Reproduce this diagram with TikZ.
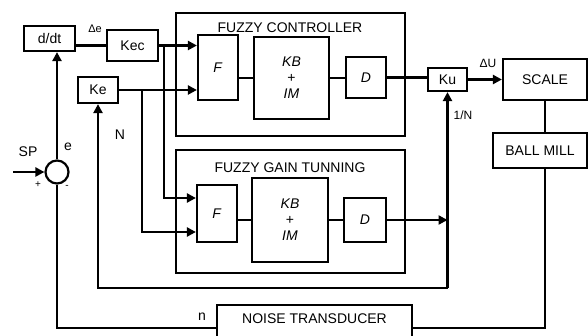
\documentclass[tikz,border=0pt]{standalone}
\usepackage{fontspec}
\setmainfont{Liberation Sans}
\usepackage{tikz}
\usetikzlibrary{arrows.meta}

\begin{document}
\begin{tikzpicture}[>={Triangle[length=9pt,width=9pt]}, x=1pt, y=-1pt,
	every node/.style={font=\fontsize{14}{16}\selectfont},
	box/.style={draw, line width=2.2pt, inner sep=0pt},
	line/.style={line width=2.6pt}]
				\useasboundingbox (0,0) rectangle (588,336);
				\clip (0,0) rectangle (588,336);
				
				\path 
				(164,0) coordinate (bx1)
				(142,0) coordinate (bx2)
				(0,198) coordinate (in1)
				(0,232) coordinate (in2)
				(0,288) coordinate (nrow)
				(13,172) coordinate (sp)
				;
				
				% the two fuzzy blocks
				\node[box, minimum width=229, minimum height=123] (fc) at (290.5,74.5) {};
				\node (fctitle) at (290,28) {FUZZY CONTROLLER};
				\node[box, minimum width=40, minimum height=65] (f1) at (218,67.5) {\textit{F}};
				\node[box, minimum width=75, minimum height=82, align=center] (kb1) at (291.5,78) {\textit{KB}\\+\\\textit{IM}};
				\node[box, minimum width=40, minimum height=41] (d1) at (366,77.5) {\textit{D}};
				
				\node[box, minimum width=229, minimum height=123] (fg) at (290.5,211.5) {};
				\node (fgtitle) at (290,168) {FUZZY GAIN TUNNING};
				\node[box, minimum width=40, minimum height=57] (f2) at (217,213.5) {\textit{F}};
				\node[box, minimum width=76, minimum height=84, align=center] (kb2) at (290,220) {\textit{KB}\\+\\\textit{IM}};
				\node[box, minimum width=42, minimum height=44] (d2) at (365,220) {\textit{D}};
				
				% the other blocks
				\node[box, minimum width=51, minimum height=25] (ddt) at (49.5,38.5) {d/dt};
				\node[box, minimum width=51, minimum height=31] (kec) at (132.5,45.5) {Kec};
				\node[box, minimum width=40, minimum height=26] (ke) at (98,90) {Ke};
				\node[box, minimum width=39, minimum height=23] (ku) at (447.5,79.5) {Ku};
				\node[box, minimum width=84, minimum height=41] (scale) at (545,79.5) {SCALE};
				\node[box, minimum width=94, minimum height=35] (mill) at (540,150.5) {BALL MILL};
				\node[box, minimum width=195, minimum height=46, text height=10, text depth=20] (noise) at (314.5,328) {NOISE TRANSDUCER};
				\node[draw, circle, line width=2.2pt, minimum size=23] (sum) at (57,172) {};
				
				\draw[line] (ddt.east |- kec.west) -- (kec.west);
				\draw[line,->] (kec.east) -- (kec.east -| f1.west);
				\draw[line,->] (ke.east) -- (ke.east -| f1.west);
				\draw[line,->] (bx1 |- kec.east) |- (f2.west |- in1);
				\draw[line,->] (bx2 |- ke.east) |- (f2.west |- in2);
				
				\draw[line] (f1.east |- kb1.west) -- (kb1.west);
				\draw[line] (kb1.east) -- (kb1.east -| d1.west);
				\draw[line] (d1.east) -- (d1.east -| ku.west);
				\draw[line] (f2.east |- kb2.west) -- (kb2.west);
				\draw[line] (kb2.east) -- (kb2.east -| d2.west);
				\draw[line,->] (d2.east) -- (d2.east -| ku.south);
				
				\draw[line,->] (ku.east) -- (ku.east -| scale.west);
				\draw[line] (scale.south) -- (scale.south |- mill.north);
				\draw[line] (scale.south |- mill.south) |- (noise.east);
				\draw[line] (noise.west) -| (sum.south);
				\draw[line,->] (sum.north) -- (sum.north |- ddt.south);
				\draw[line,->] (sp) -- (sum.west);
				
				\draw[line,->] (ku.south |- nrow) -- (ku.south);
				\draw[line,->] (ku.south |- nrow) -| (ke.south);
				
				
				\draw (95,29) node[font=\fontsize{11}{12}\selectfont] (de) {Δe};
				\draw (488,63) node[font=\fontsize{12}{13}\selectfont] (du) {ΔU};
				\draw (463,115) node[font=\fontsize{12}{13}\selectfont] (invn) {1/N};
				\draw (120,135) node (nlab) {N};
				\draw (68,147) node (elab) {e};
				\draw (28,152) node (splab) {SP};
				\draw (38,185) node[font=\fontsize{10}{11}\selectfont] (plus) {+};
				\draw (67,187) node[font=\fontsize{10}{11}\selectfont] (minus) {-};
				\draw (202,317) node (nnoise) {n};
				
			\end{tikzpicture}
\end{document}
